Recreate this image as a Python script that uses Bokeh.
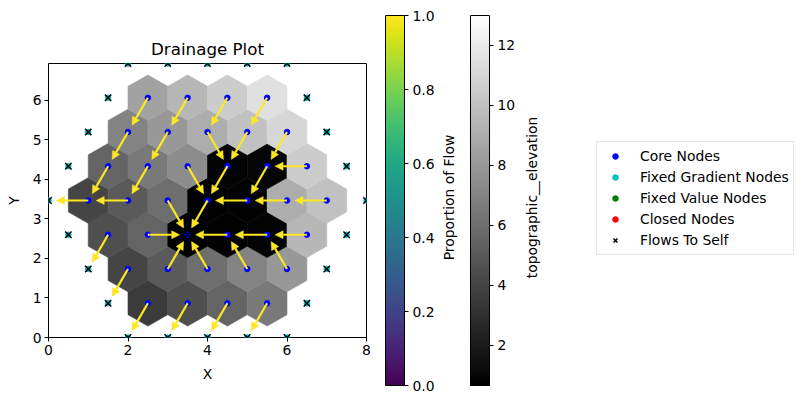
import numpy as np
from bokeh.plotting import figure
from bokeh.models import (ColumnDataSource, LinearColorMapper, ColorBar, FixedTicker, Arrow,
                          NormalHead, Legend, LegendItem, Label, Range1d, PrintfTickFormatter)
from bokeh.layouts import row
from bokeh.palettes import Viridis256, Greys256
from bokeh.embed import file_html
from bokeh.resources import INLINE

FONT = "DejaVu Sans"

# ---- data: core nodes of the hex grid, row by row ----
row_y = [0.866, 1.732, 2.598, 3.464, 4.330, 5.196, 6.062]
row_x = [
    [2.5, 3.5, 4.5, 5.5],
    [2, 3, 4, 5, 6],
    [1.5, 2.5, 3.5, 4.5, 5.5, 6.5],
    [1, 2, 3, 4, 5, 6, 7],
    [1.5, 2.5, 3.5, 4.5, 5.5, 6.5],
    [2, 3, 4, 5, 6],
    [2.5, 3.5, 4.5, 5.5],
]
row_elev = [
    [3.5, 4.5, 5.5, 6.5],
    [4.0, 5.0, 6.0, 7.0, 8.0],
    [4.5, 5.5, 0.65, 0.75, 0.85, 9.5],
    [4.0, 5.0, 6.0, 0.7, 0.8, 9.0, 10.0],
    [5.5, 6.5, 7.5, 0.85, 0.95, 10.5],
    [7.0, 8.0, 9.0, 10.0, 11.0],
    [8.5, 9.5, 10.5, 11.5],
]
# direction of each core node's receiver
row_flow = [
    ["SW", "SW", "SW", "SW"],
    ["SW", "NE", "NW", "NW", "NW"],
    ["SW", "E", "self", "W", "W", "W"],
    ["W", "W", "SE", "SW", "W", "W", "W"],
    ["SW", "SW", "SE", "SW", "SW", "W"],
    ["SW", "SW", "SE", "SW", "SW"],
    ["SW", "SW", "SW", "SW"],
]
# perimeter (fixed gradient) nodes, all flow to self
bnd_x = [2, 3, 4, 5, 6, 1.5, 6.5, 1, 7, 0.5, 7.5, 0, 8, 0.5, 7.5, 1, 7, 1.5, 6.5, 2, 3, 4, 5, 6]
bnd_y = [0, 0, 0, 0, 0, 0.866, 0.866, 1.732, 1.732, 2.598, 2.598, 3.464, 3.464,
         4.330, 4.330, 5.196, 5.196, 6.062, 6.062, 6.928, 6.928, 6.928, 6.928, 6.928]
elev_min, elev_max = 0.65, 13.0
flow_prop_ticks = [0.0, 0.2, 0.4, 0.6, 0.8, 1.0]
elev_ticks = [2, 4, 6, 8, 10, 12]
legend_labels = ["Core Nodes", "Fixed Gradient Nodes", "Fixed Value Nodes",
                 "Closed Nodes", "Flows To Self"]

# ---- derived geometry ----
DIRS = {"E": (1, 0), "W": (-1, 0), "NE": (0.5, 0.866), "NW": (-0.5, 0.866),
        "SE": (0.5, -0.866), "SW": (-0.5, -0.866), "self": (0, 0)}
r = 1 / np.sqrt(3)
cx, cy, ce, xs, ys = [], [], [], [], []
ax0, ay0, ax1, ay1 = [], [], [], []
self_x, self_y = [], []
for y, xrow, erow, frow in zip(row_y, row_x, row_elev, row_flow):
    for x, e, f in zip(xrow, erow, frow):
        cx.append(x); cy.append(y); ce.append(e)
        xs.append([x + 0.5, x, x - 0.5, x - 0.5, x, x + 0.5])
        ys.append([y + r / 2, y + r, y + r / 2, y - r / 2, y - r, y - r / 2])
        dx, dy = DIRS[f]
        if f == "self":
            self_x.append(x); self_y.append(y)
        else:
            ax0.append(x); ay0.append(y)
            ax1.append(x + 0.8 * dx); ay1.append(y + 0.8 * dy)

gray_mapper = LinearColorMapper(palette=Greys256, low=elev_min, high=elev_max)
vir_mapper = LinearColorMapper(palette=Viridis256, low=0.0, high=1.0)

# ---- main plot ----
p = figure(width=375, height=400, x_range=Range1d(0, 8), y_range=Range1d(0, 6.928),
           output_backend="svg", toolbar_location=None, title="Drainage Plot",
           min_border_left=48, min_border_right=9, min_border_top=63, min_border_bottom=63)
p.title.align = "center"
p.title.text_font = FONT
p.title.text_font_size = "16.7px"
p.title.text_font_style = "normal"
p.title.text_color = "black"
p.title.standoff = 9
p.grid.visible = False
p.outline_line_color = "black"
p.outline_line_alpha = 1.0
p.outline_line_width = 1
for ax in (p.xaxis[0], p.yaxis[0]):
    ax.axis_line_color = None
    ax.major_tick_in = 0
    ax.major_tick_out = 4
    ax.minor_tick_line_color = None
    ax.major_tick_line_color = "black"
    ax.major_label_text_font = FONT
    ax.major_label_text_font_size = "13.9px"
    ax.major_label_text_color = "black"
    ax.axis_label_text_font = FONT
    ax.axis_label_text_font_size = "13.9px"
    ax.axis_label_text_font_style = "normal"
    ax.axis_label_text_color = "black"
    ax.major_label_standoff = 3
p.xaxis.ticker = FixedTicker(ticks=[0, 2, 4, 6, 8])
p.yaxis.ticker = FixedTicker(ticks=[0, 1, 2, 3, 4, 5, 6])
p.xaxis.axis_label = "X"
p.yaxis.axis_label = "Y"
p.xaxis.axis_label_standoff = 8
p.yaxis.axis_label_standoff = 8

cell_src = ColumnDataSource(dict(xs=xs, ys=ys, elev=ce))
p.patches("xs", "ys", source=cell_src,
          fill_color={"field": "elev", "transform": gray_mapper},
          line_color={"field": "elev", "transform": gray_mapper}, line_width=0.6)

arrow_src = ColumnDataSource(dict(x0=ax0, y0=ay0, x1=ax1, y1=ay1))
YEL = Viridis256[-1]
p.add_layout(Arrow(end=NormalHead(size=8, fill_color=YEL, line_color=YEL, line_width=0.5),
                   x_start="x0", y_start="y0", x_end="x1", y_end="y1",
                   line_color=YEL, line_width=2.2, source=arrow_src))

p.scatter(cx, cy, marker="circle", size=5.5, color="#0000ff")
p.scatter(bnd_x, bnd_y, marker="circle", size=5.5, color="#00bfbf")
p.scatter(bnd_x + self_x, bnd_y + self_y, marker="x", size=9, line_color="black", line_width=1.5)

# ---- side panel: colorbars, their labels and the legend ----
# its data range lies far from the node coordinates, so the legend's stand-in
# renderers below fall outside its frame and are clipped away
p2 = figure(width=425, height=400, x_range=Range1d(1000, 1425), y_range=Range1d(1000, 1274),
            output_backend="svg", toolbar_location=None, x_axis_type=None, y_axis_type=None,
            min_border_left=0, min_border_right=0, min_border_top=63, min_border_bottom=63)
p2.outline_line_color = None
p2.grid.visible = False


def make_cb(mapper, ticks, fmt, loc):
    return ColorBar(color_mapper=mapper, width=19, height=370, location=loc, padding=0,
                    ticker=FixedTicker(ticks=ticks), formatter=PrintfTickFormatter(format=fmt),
                    bar_line_color="black", bar_line_width=1,
                    major_tick_in=0, major_tick_out=4, major_tick_line_color="black",
                    minor_tick_line_color=None, label_standoff=4,
                    major_label_text_font=FONT, major_label_text_font_size="13.9px",
                    major_label_text_color="black",
                    background_fill_alpha=0, border_line_color=None)


p2.add_layout(make_cb(vir_mapper, flow_prop_ticks, "%.1f", (10, -48)), "center")
p2.add_layout(make_cb(gray_mapper, elev_ticks, "%d", (95, -48)), "center")

p2.add_layout(Label(x=73, y=140, x_units="screen", y_units="screen", text="Proportion of Flow",
                    angle=np.pi / 2, text_align="center", text_baseline="middle",
                    text_font=FONT, text_font_size="13.9px", text_color="black"))
p2.add_layout(Label(x=156, y=140, x_units="screen", y_units="screen",
                    text="topographic__elevation", angle=np.pi / 2,
                    text_align="center", text_baseline="middle",
                    text_font=FONT, text_font_size="13.9px", text_color="black"))

proxy_src = ColumnDataSource(dict(x=cx, y=cy))
proxies = []
for col in ["#0000ff", "#00bfbf", "#008000", "#ff0000"]:
    proxies.append(p2.scatter("x", "y", source=proxy_src, marker="circle", size=5.5, color=col))
proxies.append(p2.scatter("x", "y", source=proxy_src, marker="x", size=9,
                          line_color="black", line_width=1.5))

legend = Legend(items=[LegendItem(label=lab, renderers=[rr])
                       for lab, rr in zip(legend_labels, proxies)],
                location=(221, 82), padding=4, spacing=1, glyph_width=28, glyph_height=14,
                label_height=20, label_standoff=11, margin=0,
                label_text_font=FONT, label_text_font_size="13.9px", label_text_color="black",
                border_line_color="#cccccc", border_line_width=1,
                background_fill_color="white", background_fill_alpha=0.8)
p2.add_layout(legend, "center")

layout = row(p, p2, spacing=0)
open("out.html", "w").write(file_html(layout, INLINE))
